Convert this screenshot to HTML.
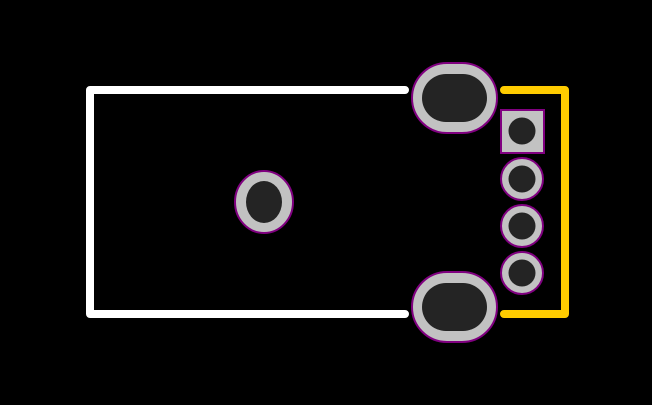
<!DOCTYPE html>
<html><head><style>body{margin:0;background:#000}svg{display:block}</style></head><body>
<svg width="652" height="405" viewBox="0 0 652 405">
<rect width="652" height="405" fill="#000"/>
<polyline points="405,90 90,90 90,314 405,314" fill="none" stroke="#fff" stroke-width="8" stroke-linecap="round" stroke-linejoin="round"/>
<polyline points="504,90 565,90 565,314 504,314" fill="none" stroke="#ffcc00" stroke-width="8" stroke-linecap="round" stroke-linejoin="round"/>
<g stroke="#800080" stroke-width="2" fill="#c2c2c2">
<rect x="412" y="63" width="85" height="70" rx="35" ry="35"/>
<rect x="412" y="272" width="85" height="70" rx="35" ry="35"/>
<ellipse cx="264" cy="202" rx="29" ry="31"/>
<rect x="501" y="110" width="43" height="43"/>
<circle cx="522" cy="179" r="21"/>
<circle cx="522" cy="226" r="21"/>
<circle cx="522" cy="273" r="21"/>
</g>
<g fill="#242424">
<rect x="422" y="74" width="65" height="48" rx="24" ry="24"/>
<rect x="422" y="283" width="65" height="48" rx="24" ry="24"/>
<ellipse cx="264" cy="202" rx="18" ry="21"/>
<circle cx="522" cy="131" r="13.5"/>
<circle cx="522" cy="179" r="13.5"/>
<circle cx="522" cy="226" r="13.5"/>
<circle cx="522" cy="273" r="13.5"/>
</g>
</svg>
</body></html>
